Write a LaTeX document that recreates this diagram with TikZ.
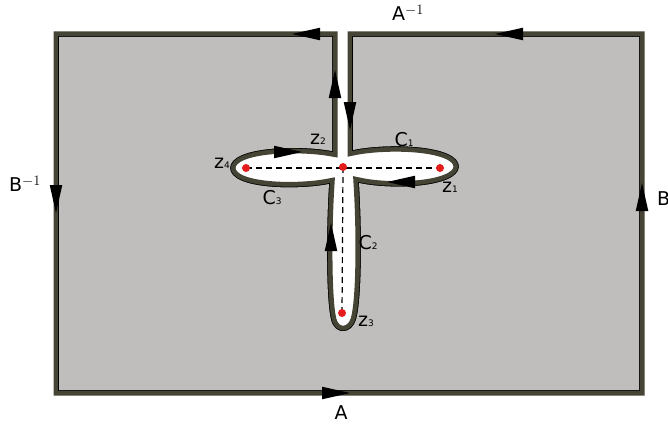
\documentclass[tikz,border=0pt]{standalone}
\usepackage{fontspec}
\setmainfont{DejaVu Sans}
\definecolor{gbg}{RGB}{191,190,188}
\definecolor{olivebd}{RGB}{70,68,52}
\definecolor{dotred}{RGB}{228,28,28}
\newcommand\sbs[1]{{\fontsize{9}{10}\selectfont #1}}
\newcommand\spm{$^{\fontsize{14}{14}\selectfont -1}$}
\tikzset{
  lbl/.style={inner sep=0pt, font=\fontsize{19}{22}\selectfont},
  reddot/.style={fill=dotred},
  dashln/.style={dashed, dash pattern=on 6pt off 4pt, line width=1.2pt, black},
}
\newcommand\arrtri[3]{\fill[black,shift={(#1,#2)},rotate=#3] (0,0) -- (-28,6.3) -- (-28,-6.3) -- cycle;}
\begin{document}
\begin{tikzpicture}[x=1pt,y=-1pt]
\useasboundingbox (0,0) rectangle (668,428);
\path[save path=\regpath]
 (59,390) -- (639,390) -- (639,37) -- (353,37) -- (353,150)
 .. controls (385,143) and (460,144) .. (459,167)
 .. controls (458,188) and (390,190) .. (359,183)
 .. controls (362,230) and (362,300) .. (356,320)
 .. controls (352,334) and (335,336) .. (331,320)
 .. controls (326,300) and (326,230) .. (329,184)
 .. controls (300,190) and (230,190) .. (230,168)
 .. controls (230,146) and (300,145) .. (332,151)
 -- (332,37) -- (59,37) -- cycle;
\draw[olivebd, line width=11pt, use path=\regpath];
\draw[black, line width=1.6pt, use path=\regpath];
\fill[gbg, use path=\regpath];
% direction arrows
\arrtri{292}{34}{180}
\arrtri{495}{34}{180}
\arrtri{56}{213}{-90}
\arrtri{642}{183}{90}
\arrtri{350}{393}{0}
\arrtri{335}{70}{90}
\arrtri{350}{130}{-90}
\arrtri{302}{152}{0}
\arrtri{387}{182}{180}
\arrtri{331}{223}{90}
% points and dashed cuts
\coordinate (z4) at (246,168);
\coordinate (zc) at (343,167);
\coordinate (z1) at (440,168);
\coordinate (z3) at (342,313);
\draw[dashln] (z4) -- (z1);
\draw[dashln] (zc) -- (z3);
\foreach \p in {z4,zc,z1,z3} \fill[reddot] (\p) circle (4);
% labels
\node[lbl] (lz2) at (318,139) {z\sbs{2}};
\node[lbl] (lc1) at (404,140) {C\sbs{1}};
\node[lbl] (lz4) at (222,163) {z\sbs{4}};
\node[lbl] (lz1) at (450,187) {z\sbs{1}};
\node[lbl] (lc3) at (272,198) {C\sbs{3}};
\node[lbl] (lc2) at (368,243) {C\sbs{2}};
\node[lbl] (lz3) at (366,321) {z\sbs{3}};
\node[lbl] (lbinv) at (25,184) {B\spm};
\node[lbl, anchor=west] (lb) at (657,199) {B};
\node[lbl] (la) at (341,413) {A};
\node[lbl] (lainv) at (408,13) {A\spm};
\end{tikzpicture}
\end{document}
